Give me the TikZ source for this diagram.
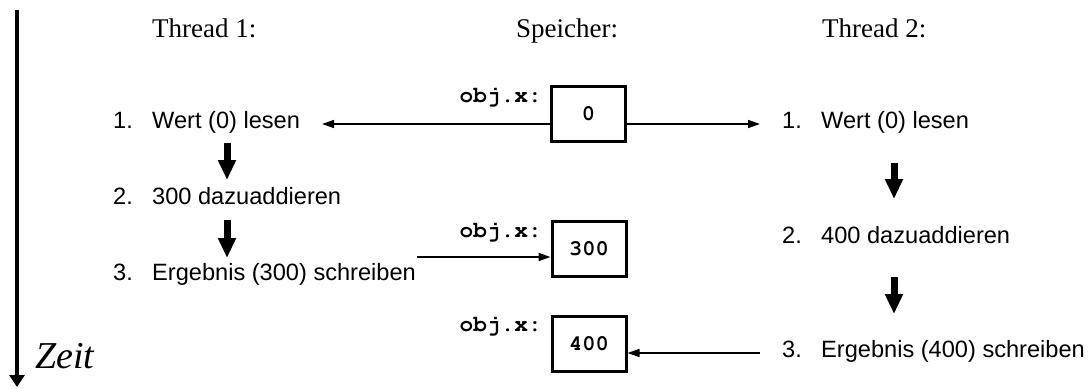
\documentclass[tikz,border=0pt]{standalone}
\usepackage[T1,TU]{fontenc}
\usepackage{fontspec}
\setmainfont{Liberation Serif}
\newfontfamily\arialf{Liberation Sans}
\newcommand{\courbf}{\fontencoding{T1}\fontfamily{pcr}\fontseries{b}\selectfont}
\usetikzlibrary{arrows.meta}
\tikzset{
  hdr/.style={anchor=base west,inner sep=0pt,font=\fontsize{27}{32}\selectfont},
  item/.style={anchor=base west,inner sep=0pt,font=\arialf\fontsize{23.6}{28}\selectfont},
  mem/.style={draw,line width=3pt,minimum width=74pt,minimum height=55pt,inner sep=0pt,
    font=\courbf\fontsize{22}{26}\selectfont},
  lbl/.style={anchor=base east,inner sep=0pt,font=\courbf\fontsize{22.8}{26}\selectfont},
  thin/.style={line width=1.5pt,-{Triangle[length=12pt,width=8pt]}},
  thick/.style={line width=7pt,-{Triangle[length=20pt,width=17pt]}},
  timeax/.style={line width=4.5pt,-{Triangle[length=12pt,width=15pt]}}
}
\newcommand{\itm}[2]{\makebox[39pt][l]{#1}#2}
\begin{document}
\begin{tikzpicture}[x=1pt,y=-1pt]
\useasboundingbox (0,0) rectangle (1089,388);
% time axis
\coordinate (tA) at (17,10);
\coordinate (tB) at (17,387);
\draw[timeax] (tA) -- (tB);
\node[anchor=base west,inner sep=0pt,font=\itshape\fontsize{38}{44}\selectfont] (zeit) at (35,368) {Zeit};
% headers
\node[hdr] (h1) at (152,37) {Thread 1:};
\node[hdr] (hs) at (516,37) {Speicher:};
\node[hdr] (h2) at (822,37) {Thread 2:};
% thread 1
\node[item] (a1) at (113,128) {\itm{1.}{Wert (0) lesen}};
\node[item] (a2) at (113,204) {\itm{2.}{300 dazuaddieren}};
\node[item] (a3) at (113,280) {\itm{3.}{Ergebnis (300) schreiben}};
% thread 2
\node[item] (b1) at (782,128) {\itm{1.}{Wert (0) lesen}};
\node[item] (b2) at (782,243) {\itm{2.}{400 dazuaddieren}};
\node[item] (b3) at (782,357) {\itm{3.}{Ergebnis (400) schreiben}};
% memory
\node[mem] (m0) at (588.5,114) {0};
\node[mem] (m1) at (589,248.5) {300};
\node[mem] (m2) at (589,343.5) {400};
\node[lbl] (l0) at (542,102) {obj.x:};
\node[lbl] (l1) at (542,237) {obj.x:};
\node[lbl] (l2) at (542,331) {obj.x:};
% thin arrows
\coordinate (r0l) at (322,124);
\coordinate (r0r) at (760,124);
\coordinate (w1) at (417,257);
\coordinate (w2) at (760,353);
\draw[thin] (m0.west |- r0l) -- (r0l);
\draw[thin] (m0.east |- r0r) -- (r0r);
\draw[thin] (w1) -- (m1.west |- w1);
\draw[thin] (w2) -- (m2.east |- w2);
% thick step arrows
\coordinate (p1) at (227,143); \coordinate (p2) at (227,180);
\coordinate (p3) at (227,220); \coordinate (p4) at (227,258);
\coordinate (q1) at (894,163); \coordinate (q2) at (894,199);
\coordinate (q3) at (894,277); \coordinate (q4) at (894,314);
\draw[thick] (p1) -- (p2);
\draw[thick] (p3) -- (p4);
\draw[thick] (q1) -- (q2);
\draw[thick] (q3) -- (q4);
\end{tikzpicture}
\end{document}
